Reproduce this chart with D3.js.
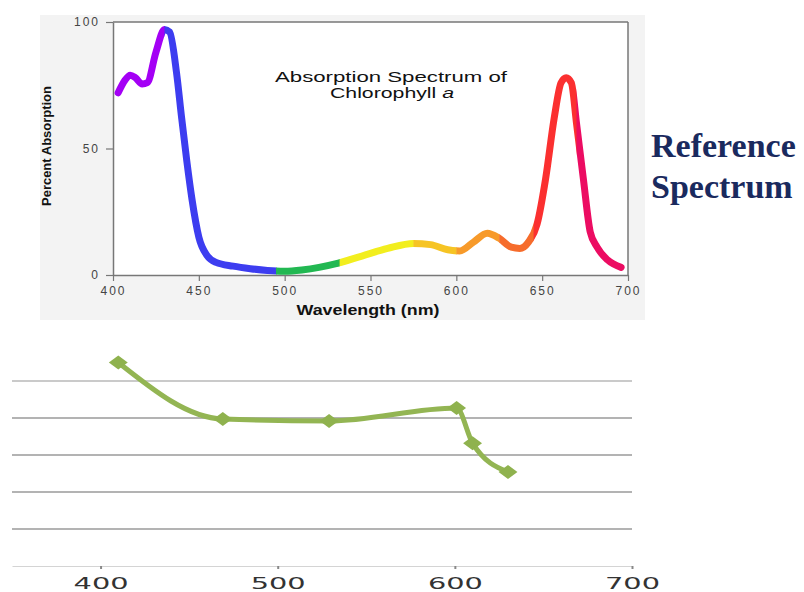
<!DOCTYPE html>
<html>
<head>
<meta charset="utf-8">
<script src="https://cdn.jsdelivr.net/npm/d3@7"></script>
<style>
  body { margin: 0; background: #fff; }
  svg { display: block; }
</style>
</head>
<body>
<svg id="chart" width="804" height="592"></svg>
<script>
// reference spectrum (percent absorption by wavelength)
let specWave = [403, 407, 410, 413, 417, 420, 425, 430, 433, 437, 440, 443, 446, 450, 455, 460, 470, 480, 490, 500,
  510, 520, 530, 545, 560, 575, 585, 595, 602, 610, 618, 625, 632, 637, 642, 647, 652, 657, 661, 664, 667, 670,
  674, 678, 682, 688, 696]
let specAbs = [72, 77, 79, 78, 75.5, 76, 88, 97, 96, 80, 62, 45, 30, 15, 7.5, 5, 3.5, 2.5, 1.8, 1.5,
  2, 3, 4.5, 7.5, 10.5, 12.5, 12, 10, 9.5, 13, 16.5, 14.5, 11, 10.5, 13, 20, 38, 62, 76, 78, 76, 60,
  38, 17, 11, 6, 3]

// colour bands along the spectrum
let bandStart = [400, 430, 495, 532, 575, 600, 625, 645, 670]
let bandEnd = [430, 495, 532, 575, 600, 625, 645, 670, 700]
let bandColor = ["#a400f5", "#3d3df0", "#22b852", "#f2ee1e", "#f6c424", "#f79a2a", "#f66c2c", "#fb3030", "#ec0c62"]

let topXTicks = [400, 450, 500, 550, 600, 650, 700]
let topYTicks = [0, 50, 100]

// measured data (lower chart)
let measWave = [410, 469, 529, 601, 610, 630]
let measAbs = [5.5, 3.97, 3.92, 4.27, 3.32, 2.54]
let bottomXTicks = [400, 500, 600, 700]
let bottomGrid = [1, 2, 3, 4, 5]

let svg = d3.select("#chart")

// ---------- top chart ----------
let topBox = { left: 113, right: 628, top: 22, bottom: 275 }

svg.append("rect")
  .attr("x", 40).attr("y", 15).attr("width", 605).attr("height", 305)
  .attr("fill", "#f3f3f3")
svg.append("rect")
  .attr("x", topBox.left).attr("y", topBox.top)
  .attr("width", topBox.right - topBox.left).attr("height", topBox.bottom - topBox.top)
  .attr("fill", "#fff")

let xTop = d3.scaleLinear().domain([400, 700]).range([topBox.left, topBox.right])
let yTop = d3.scaleLinear().domain([0, 100]).range([topBox.bottom, topBox.top])

// frame lines on top and right
svg.append("line")
  .attr("x1", topBox.left).attr("x2", topBox.right).attr("y1", topBox.top).attr("y2", topBox.top)
  .attr("stroke", "#777").attr("stroke-width", 1.5)
svg.append("line")
  .attr("x1", topBox.right).attr("x2", topBox.right).attr("y1", topBox.top).attr("y2", topBox.bottom)
  .attr("stroke", "#777").attr("stroke-width", 1.5)

let xAxisTop = svg.append("g")
  .attr("transform", "translate(0," + topBox.bottom + ")")
  .call(d3.axisBottom(xTop).tickValues(topXTicks).tickSize(6).tickSizeOuter(0).tickPadding(5))
let yAxisTop = svg.append("g")
  .attr("transform", "translate(" + topBox.left + ",0)")
  .call(d3.axisLeft(yTop).tickValues(topYTicks).tickSize(7).tickSizeOuter(0).tickPadding(6))

for (let ax of [xAxisTop, yAxisTop]) {
  ax.select(".domain").attr("stroke", "#777").attr("stroke-width", 1.5)
  ax.selectAll(".tick line").attr("stroke", "#777").attr("stroke-width", 1.2)
  ax.selectAll("text")
    .style("font-family", "Liberation Sans, Arial, sans-serif")
    .style("font-size", "12px")
    .style("letter-spacing", "2px")
    .attr("fill", "#444")
}

// spectrum line, one clipped copy per colour band
let specData = specWave.map(function (w, i) { return { w: w, a: specAbs[i] } })
let specLine = d3.line()
  .x(function (d) { return xTop(d.w) })
  .y(function (d) { return yTop(d.a) })
  .curve(d3.curveMonotoneX)

let defs = svg.append("defs")
bandStart.forEach(function (s, i) {
  defs.append("clipPath").attr("id", "band" + i)
    .append("rect")
    .attr("x", i == 0 ? xTop(s) - 10 : xTop(s)).attr("y", 0)
    .attr("width", xTop(bandEnd[i]) - xTop(s) + (i == bandStart.length - 1 ? 10 : 0.5) + (i == 0 ? 10 : 0))
    .attr("height", 330)
  svg.append("path")
    .datum(specData)
    .attr("d", specLine)
    .attr("clip-path", "url(#band" + i + ")")
    .attr("fill", "none")
    .attr("stroke", bandColor[i])
    .attr("stroke-width", 7)
    .attr("stroke-linecap", "round")
    .attr("stroke-linejoin", "round")
})

// title
let titleStyle = function (t) {
  t.attr("text-anchor", "middle")
    .attr("lengthAdjust", "spacingAndGlyphs")
    .style("font-family", "Liberation Sans, Arial, sans-serif")
    .style("font-size", "14px")
    .attr("fill", "#111")
}
svg.append("text").call(titleStyle)
  .attr("x", 391).attr("y", 82).attr("textLength", 232)
  .text("Absorption Spectrum of")
let t2 = svg.append("text").call(titleStyle)
  .attr("x", 392).attr("y", 98).attr("textLength", 124)
t2.append("tspan").text("Chlorophyll ")
t2.append("tspan").style("font-style", "italic").text("a")

// axis labels
svg.append("text")
  .attr("transform", "translate(51,146) rotate(-90)")
  .attr("text-anchor", "middle")
  .attr("textLength", 120)
  .attr("lengthAdjust", "spacingAndGlyphs")
  .style("font-family", "Liberation Sans Narrow, Arial Narrow, Liberation Sans, sans-serif")
  .style("font-weight", "bold")
  .style("font-size", "13px")
  .attr("fill", "#111")
  .text("Percent Absorption")
svg.append("text")
  .attr("x", 368).attr("y", 315)
  .attr("text-anchor", "middle")
  .attr("textLength", 143)
  .attr("lengthAdjust", "spacingAndGlyphs")
  .style("font-family", "Liberation Sans, Arial, sans-serif")
  .style("font-weight", "bold")
  .style("font-size", "14px")
  .attr("fill", "#111")
  .text("Wavelength (nm)")

// side caption
let cap = svg.append("text")
  .style("font-family", "Liberation Serif, Times New Roman, serif")
  .style("font-weight", "bold")
  .style("font-size", "34px")
  .attr("fill", "#1a2a5e")
cap.append("tspan").attr("x", 651).attr("y", 157).text("Reference")
cap.append("tspan").attr("x", 651).attr("y", 198).text("Spectrum")

// ---------- bottom chart ----------
let botBox = { left: 12, right: 632, top: 344, bottom: 566 }
let xBot = d3.scaleLinear().domain([350, 700]).range([botBox.left, botBox.right])
let yBot = d3.scaleLinear().domain([0, 6]).range([botBox.bottom, botBox.top])

svg.append("g")
  .selectAll("line")
  .data(bottomGrid)
  .enter()
  .append("line")
  .attr("x1", botBox.left).attr("x2", botBox.right)
  .attr("y1", function (d) { return yBot(d) })
  .attr("y2", function (d) { return yBot(d) })
  .attr("stroke", function (d) { return d == 5 ? "#b8b8b8" : "#9a9a9a" })
  .attr("stroke-width", 1.5)

let xAxisBot = svg.append("g")
  .attr("transform", "translate(0," + botBox.bottom + ")")
  .call(d3.axisBottom(xBot).tickValues(bottomXTicks).tickSize(3).tickSizeOuter(0).tickPadding(4))
xAxisBot.select(".domain").attr("stroke", "#d4d4d4").attr("stroke-width", 1.2)
xAxisBot.selectAll(".tick line").attr("stroke", "#888").attr("stroke-width", 2)
xAxisBot.selectAll(".tick text")
  .attr("transform", "scale(1.8,1)")
  .style("font-family", "DejaVu Sans, sans-serif")
  .style("font-size", "16px")
  .attr("fill", "#333")
  .attr("dy", "0.98em")

let measData = measWave.map(function (w, i) { return { w: w, a: measAbs[i] } })
let measLine = d3.line()
  .x(function (d) { return xBot(d.w) })
  .y(function (d) { return yBot(d.a) })
  .curve(d3.curveMonotoneX)

svg.append("path")
  .datum(measData)
  .attr("d", measLine)
  .attr("fill", "none")
  .attr("stroke", "#93b553")
  .attr("stroke-width", 5)
  .attr("stroke-linejoin", "round")

// flattened diamond markers
svg.selectAll("mymarker")
  .data(measData)
  .enter()
  .append("path")
  .attr("d", d3.symbol().type(d3.symbolDiamond).size(70))
  .attr("transform", function (d) { return "translate(" + xBot(d.w) + "," + yBot(d.a) + ") scale(2.1,0.9)" })
  .attr("fill", "#8fb24e")
</script>
</body>
</html>
